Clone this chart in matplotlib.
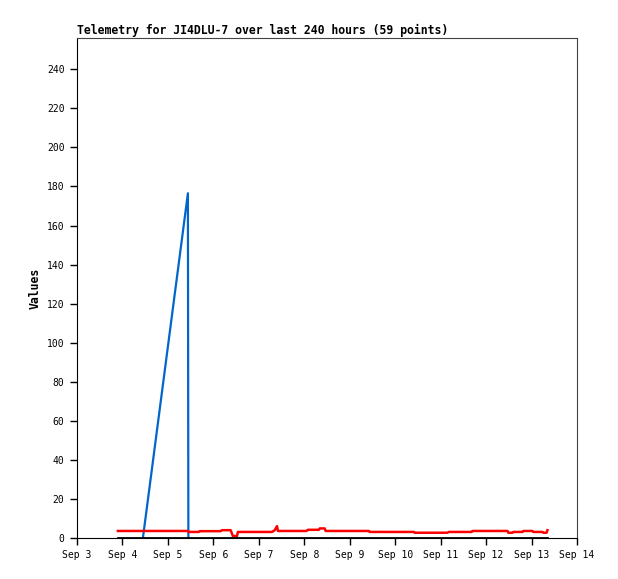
import matplotlib.pyplot as plt

# day of September (fractional) and values
red_days = [3.90, 5.44, 5.46, 5.68, 5.70, 6.16, 6.19, 6.38, 6.43, 6.52, 6.54, 7.29, 7.35, 7.40,
            7.42, 8.05, 8.08, 8.32, 8.34, 8.45, 8.47, 9.42, 9.44, 10.41, 10.43, 11.15, 11.18,
            11.68, 11.70, 12.47, 12.49, 12.58, 12.60, 12.80, 12.82, 13.02, 13.04, 13.24, 13.26,
            13.33, 13.35]
red_vals = [3.6, 3.6, 3.1, 3.1, 3.5, 3.5, 4.0, 4.0, 1.0, 1.0, 3.1, 3.1, 4.0, 6.1,
            3.6, 3.6, 4.2, 4.2, 4.9, 4.9, 3.6, 3.6, 3.1, 3.1, 2.7, 2.7, 3.1,
            3.1, 3.6, 3.6, 2.7, 2.7, 3.1, 3.1, 3.6, 3.6, 3.1, 3.1, 2.7,
            2.7, 4.0]

blue_days = [4.45, 5.44, 5.45]
blue_vals = [0, 176.5, 0]

black_days = [3.90, 13.35]
black_vals = [0, 0]

tick_days = list(range(3, 15))
tick_labels = [f"Sep {d}" for d in tick_days]
y_ticks = list(range(0, 241, 20))

fig = plt.figure(figsize=(6.18, 5.79), dpi=100)
ax = fig.add_axes([77 / 618, 41 / 579, 500 / 618, 500 / 579])

ax.plot(blue_days, blue_vals, color="#0066cc", lw=1.6)
ax.plot(red_days, red_vals, color="#ff0000", lw=1.8)
ax.plot(black_days, black_vals, color="black", lw=2)

ax.set_xlim(3, 14)
ax.set_ylim(0, 256)
ax.set_xticks(tick_days)
ax.set_xticklabels(tick_labels)
ax.set_yticks(y_ticks)
ax.tick_params(direction="out", length=5, width=1, labelsize=7, pad=4)
for lab in ax.get_xticklabels() + ax.get_yticklabels():
    lab.set_family("DejaVu Sans Mono")

ax.spines["left"].set_color("black")
ax.spines["bottom"].set_color("black")
ax.spines["top"].set_color("#444444")
ax.spines["right"].set_color("#444444")

ax.set_title("Telemetry for JI4DLU-7 over last 240 hours (59 points)", loc="left",
             fontsize=8.3, fontweight="bold", family="DejaVu Sans Mono", pad=3)
ax.set_ylabel("Values", fontsize=8.3, fontweight="bold", family="DejaVu Sans Mono", labelpad=4)

plt.savefig("out.png", dpi=100)
